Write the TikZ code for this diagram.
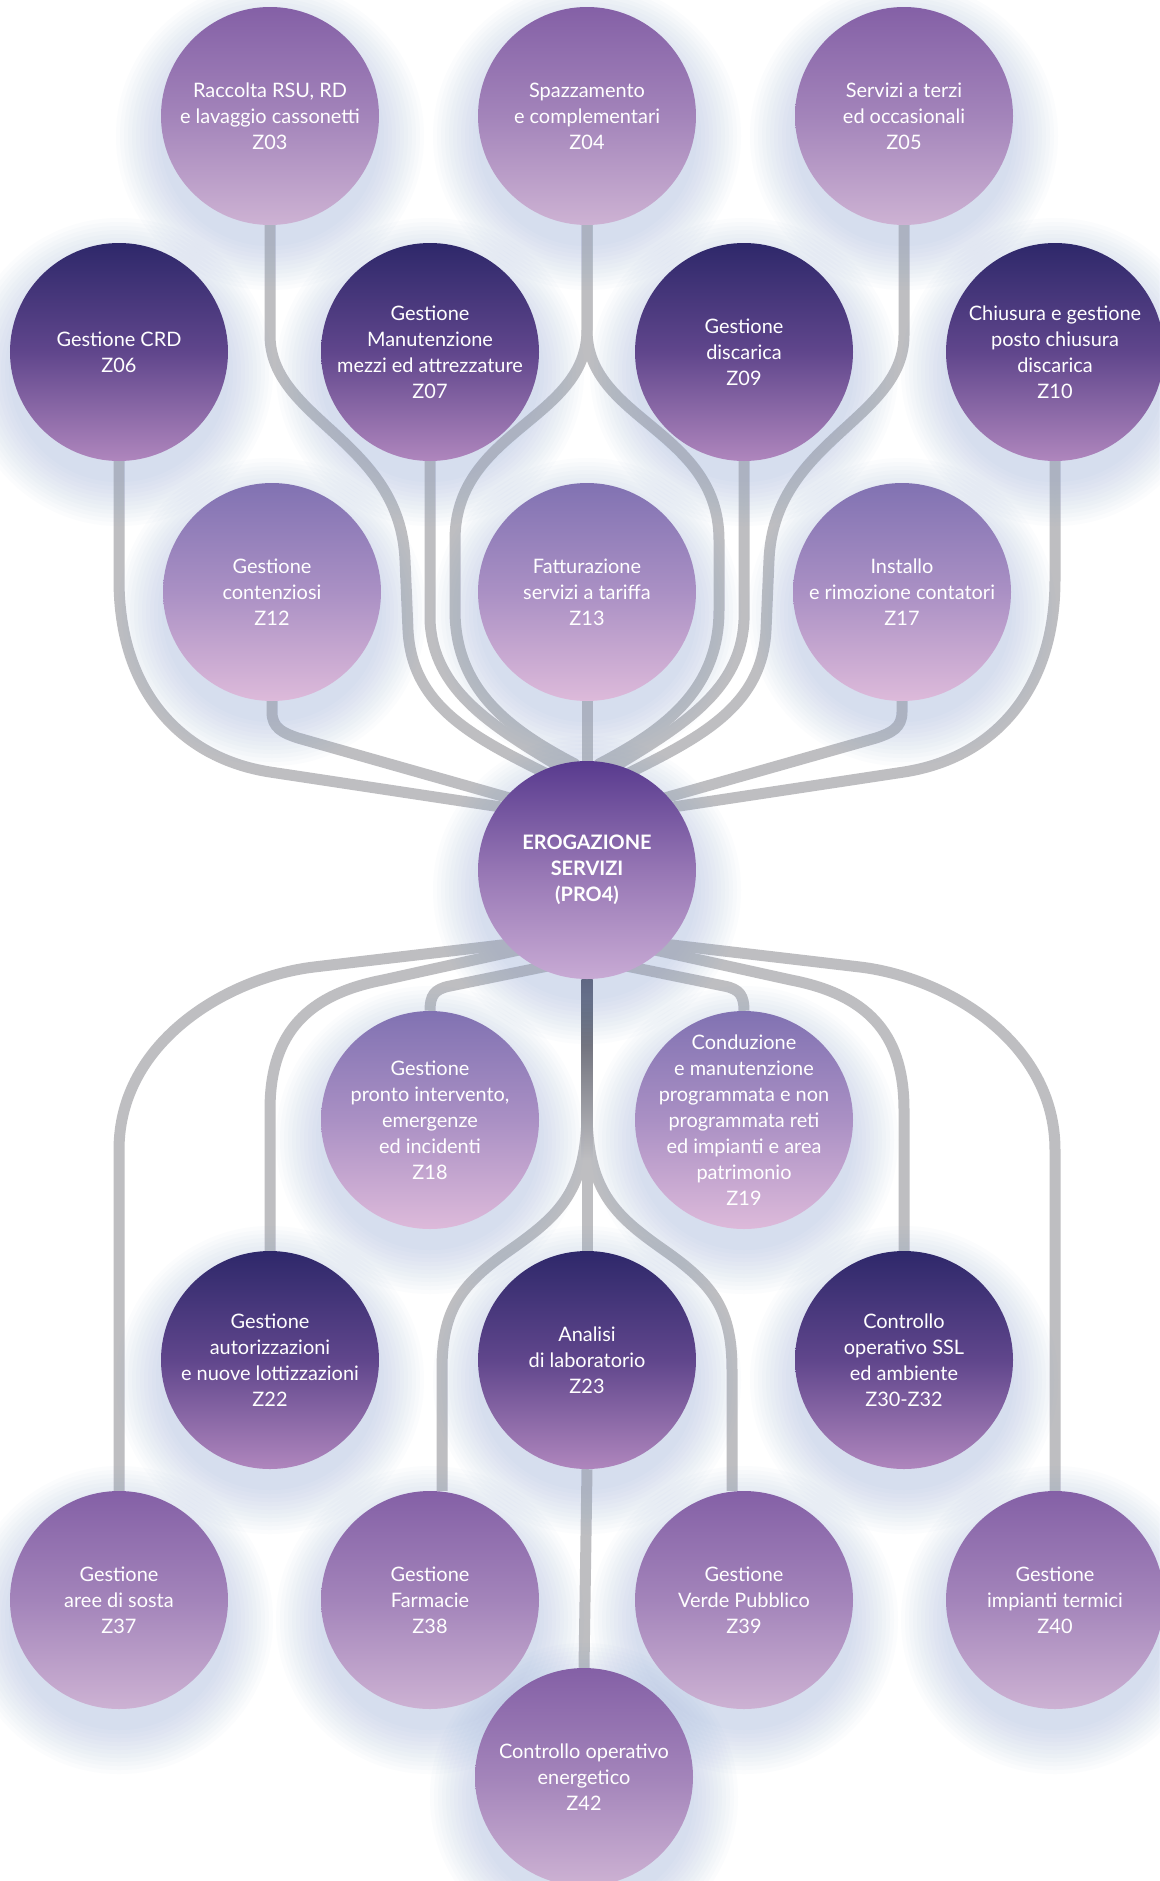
\documentclass[tikz,border=0pt]{standalone}
\usepackage{fontspec}
\setmainfont{Lato}
\pgfdeclarelayer{bg}
\pgfdeclarelayer{glowl}
\pgfsetlayers{bg,glowl,main}
\definecolor{lineg}{RGB}{190,190,193}
\definecolor{glowc}{RGB}{150,172,218}
\definecolor{aTop}{RGB}{132,96,166}
\definecolor{aMid}{RGB}{163,132,186}
\definecolor{aBot}{RGB}{205,178,211}
\definecolor{bTop}{RGB}{129,114,178}
\definecolor{bMid}{RGB}{170,144,196}
\definecolor{bBot}{RGB}{221,186,218}
\definecolor{cTop}{RGB}{46,40,106}
\definecolor{cMid}{RGB}{96,70,140}
\definecolor{cBot}{RGB}{175,134,189}
\definecolor{hTop}{RGB}{88,58,142}
\definecolor{hMid}{RGB}{150,118,180}
\definecolor{hBot}{RGB}{200,170,212}
\definecolor{trunkd}{RGB}{72,74,90}
\tikzset{
  bub/.style={circle, minimum size=218bp, inner sep=0pt, draw=none},
  bubA/.style={bub, top color=aTop, bottom color=aBot, middle color=aMid},
  bubB/.style={bub, top color=bTop, bottom color=bBot, middle color=bMid},
  bubC/.style={bub, top color=cTop, bottom color=cBot, middle color=cMid},
  bubH/.style={bub, top color=hTop, bottom color=hBot, middle color=hMid},
  lbl/.style={text=white, align=center, inner sep=0pt, font=\fontsize{20}{26}\selectfont},
  conn/.style={draw=lineg, line width=11bp, line cap=butt, line join=round},
}
\begin{document}
\begin{tikzpicture}[x=1bp,y=1bp]
\useasboundingbox (0,-1881) rectangle (1159,0);
% circles
\node[bubA] (z03) at (270,-116) {};
\node[bubA] (z04) at (587,-116) {};
\node[bubA] (z05) at (904,-116) {};
\node[bubC] (z06) at (119,-352) {};
\node[bubC] (z07) at (430,-352) {};
\node[bubC] (z09) at (744,-352) {};
\node[bubC] (z10) at (1055,-352) {};
\node[bubB] (z12) at (272,-592) {};
\node[bubB] (z13) at (587,-592) {};
\node[bubB] (z17) at (902,-592) {};
\node[bubH] (ctr) at (587,-870) {};
\node[bubB] (z18) at (430,-1120) {};
\node[bubB] (z19) at (744,-1120) {};
\node[bubC] (z22) at (270,-1360) {};
\node[bubC] (z23) at (587,-1360) {};
\node[bubC] (z30) at (904,-1360) {};
\node[bubA] (z37) at (119,-1600) {};
\node[bubA] (z38) at (430,-1600) {};
\node[bubA] (z39) at (744,-1600) {};
\node[bubA] (z40) at (1055,-1600) {};
\node[bubA] (z42) at (584,-1777) {};
% texts
\node[lbl] (t03) at (z03) {Raccolta RSU, RD\\e lavaggio cassonetti\\Z03};
\node[lbl] (t04) at (z04) {Spazzamento\\e complementari\\Z04};
\node[lbl] (t05) at (z05) {Servizi a terzi\\ed occasionali\\Z05};
\node[lbl] (t06) at (z06) {Gestione CRD\\Z06};
\node[lbl] (t07) at (z07) {Gestione\\Manutenzione\\mezzi ed attrezzature\\Z07};
\node[lbl] (t09) at (z09) {Gestione\\discarica\\Z09};
\node[lbl] (t10) at (z10) {Chiusura e gestione\\posto chiusura\\discarica\\Z10};
\node[lbl] (t12) at (z12) {Gestione\\contenziosi\\Z12};
\node[lbl] (t13) at (z13) {Fatturazione\\servizi a tariffa\\Z13};
\node[lbl] (t17) at (z17) {Installo\\e rimozione contatori\\Z17};
\node[lbl, font=\fontsize{20}{26}\selectfont\bfseries] (tctr) at (ctr) {EROGAZIONE\\SERVIZI\\(PRO4)};
\node[lbl] (t18) at (z18) {Gestione\\pronto intervento,\\emergenze\\ed incidenti\\Z18};
\node[lbl] (t19) at (z19) {Conduzione\\e manutenzione\\programmata e non\\programmata reti\\ed impianti e area\\patrimonio\\Z19};
\node[lbl] (t22) at (z22) {Gestione\\autorizzazioni\\e nuove lottizzazioni\\Z22};
\node[lbl] (t23) at (z23) {Analisi\\di laboratorio\\Z23};
\node[lbl] (t30) at (z30) {Controllo\\operativo SSL\\ed ambiente\\Z30-Z32};
\node[lbl] (t37) at (z37) {Gestione\\aree di sosta\\Z37};
\node[lbl] (t38) at (z38) {Gestione\\Farmacie\\Z38};
\node[lbl] (t39) at (z39) {Gestione\\Verde Pubblico\\Z39};
\node[lbl] (t40) at (z40) {Gestione\\impianti termici\\Z40};
\node[lbl] (t42) at (z42) {Controllo operativo\\energetico\\Z42};
% hubs inside the central circle
\coordinate (hubN) at (587,-820);
\coordinate (hubS) at (587,-935);
\coordinate (hubS2) at (587,-958);
\begin{pgfonlayer}{bg}
\fill[white] (0,-1881) rectangle (1159,0);
% upper connectors
\draw[conn] (z06.south) -- (119,-580) .. controls (119,-690) and (180,-758) .. (270,-772) -- (hubN);
\draw[conn] (z10.south) -- (1055,-580) .. controls (1055,-690) and (994,-758) .. (904,-772) -- (hubN);
\draw[conn] (z03.south) -- (270,-335) .. controls (270,-420) and (400,-440) .. (405,-560) -- (408,-630) .. controls (412,-710) and (480,-740) .. (555,-778) -- (hubN);
\draw[conn] (z05.south) -- (904,-335) .. controls (904,-420) and (774,-440) .. (769,-560) -- (766,-630) .. controls (762,-710) and (694,-740) .. (619,-778) -- (hubN);
\draw[conn] (z07.south) -- (430,-620) .. controls (433,-690) and (490,-725) .. (565,-770) -- (hubN);
\draw[conn] (z09.south) -- (744,-620) .. controls (741,-690) and (684,-725) .. (609,-770) -- (hubN);
\draw[conn] (z04.south) -- (587,-330) .. controls (587,-420) and (455,-430) .. (455,-540) -- (455,-610) .. controls (455,-690) and (510,-730) .. (575,-764) -- (hubN);
\draw[conn] (z04.south) -- (587,-330) .. controls (587,-420) and (719,-430) .. (719,-540) -- (719,-610) .. controls (719,-690) and (664,-730) .. (599,-764) -- (hubN);
\draw[conn] (z13.south) -- (ctr.north);
\draw[conn] (z12.south) -- (272,-712) .. controls (272,-728) and (283,-733) .. (298,-738) -- (hubN);
\draw[conn] (z17.south) -- (902,-712) .. controls (902,-728) and (891,-733) .. (876,-738) -- (hubN);
% lower connectors
\draw[conn] (hubS) -- (314,-967) .. controls (230,-977) and (119,-1040) .. (119,-1150) -- (z37.north);
\draw[conn] (hubS) -- (860,-967) .. controls (944,-977) and (1055,-1040) .. (1055,-1150) -- (z40.north);
\draw[conn] (hubS) -- (383,-980) .. controls (300,-996) and (270,-1040) .. (270,-1110) -- (z22.north);
\draw[conn] (hubS) -- (791,-980) .. controls (874,-996) and (904,-1040) .. (904,-1110) -- (z30.north);
\draw[conn] (hubS2) -- (450,-986) .. controls (434,-989) and (430,-996) .. (z18.north);
\draw[conn] (hubS2) -- (724,-986) .. controls (740,-989) and (744,-996) .. (z19.north);
\draw[conn] (ctr.south) -- (587,-1110) .. controls (587,-1190) and (560,-1215) .. (510,-1250) .. controls (460,-1285) and (442,-1310) .. (442,-1370) -- ([xshift=12bp]z38.north);
\draw[conn] (ctr.south) -- (587,-1110) .. controls (587,-1190) and (614,-1215) .. (664,-1250) .. controls (714,-1285) and (732,-1310) .. (732,-1370) -- ([xshift=-12bp]z39.north);
\draw[conn] (ctr.south) -- (z23.north);
\shade[top color=trunkd, bottom color=lineg] (581.5,-979) rectangle (592.5,-1160);
\draw[conn] (z23.south) -- (z42.north);
\end{pgfonlayer}
\begin{pgfonlayer}{glowl}
\foreach \n in {z03,z04,z05,z06,z07,z09,z10,z12,z13,z17,ctr,z18,z19,z22,z23,z30,z37,z38,z39,z40,z42} {
  \foreach \k in {1,...,12} {
    \fill[glowc, fill opacity=0.035] ([yshift=-20bp]\n.center) circle ({106+4*\k});
  }
}
\end{pgfonlayer}
\end{tikzpicture}
\end{document}
